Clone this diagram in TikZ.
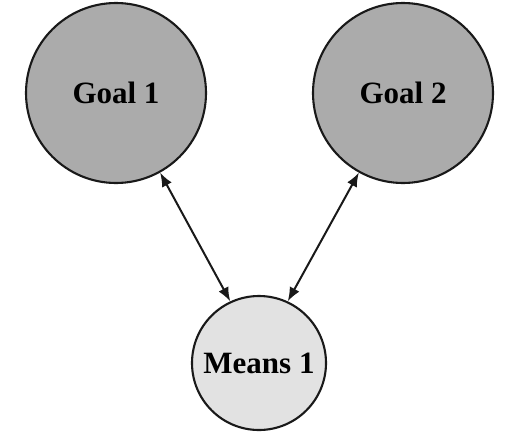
\documentclass[tikz,border=0pt]{standalone}
\usepackage{fontspec}
\setmainfont{Liberation Serif}
\usetikzlibrary{arrows.meta}
\definecolor{goalgray}{HTML}{ABABAB}
\definecolor{meansgray}{HTML}{E2E2E2}
\begin{document}
\begin{tikzpicture}[x=1pt,y=-1pt,
  goalnode/.style={circle,draw=black!90,line width=2.1pt,fill=goalgray,
    minimum size=180pt,inner sep=0pt,font=\fontsize{31}{36}\selectfont\bfseries},
  meansnode/.style={circle,draw=black!90,line width=2.1pt,fill=meansgray,
    minimum size=134pt,inner sep=0pt,font=\fontsize{31}{36}\selectfont\bfseries},
  link/.style={line width=2pt,black!90,{Latex[length=14pt,width=11pt]}-{Latex[length=14pt,width=11pt]}}]
  \useasboundingbox (0,0) rectangle (513,434);
  \node[goalnode] (g1) at (116,93) {Goal 1};
  \node[goalnode] (g2) at (403,93) {Goal 2};
  \node[meansnode] (m1) at (259,363) {Means 1};
  \draw[link] (g1.-61) -- (m1.115);
  \draw[link] (g2.-119) -- (m1.65);
\end{tikzpicture}
\end{document}
